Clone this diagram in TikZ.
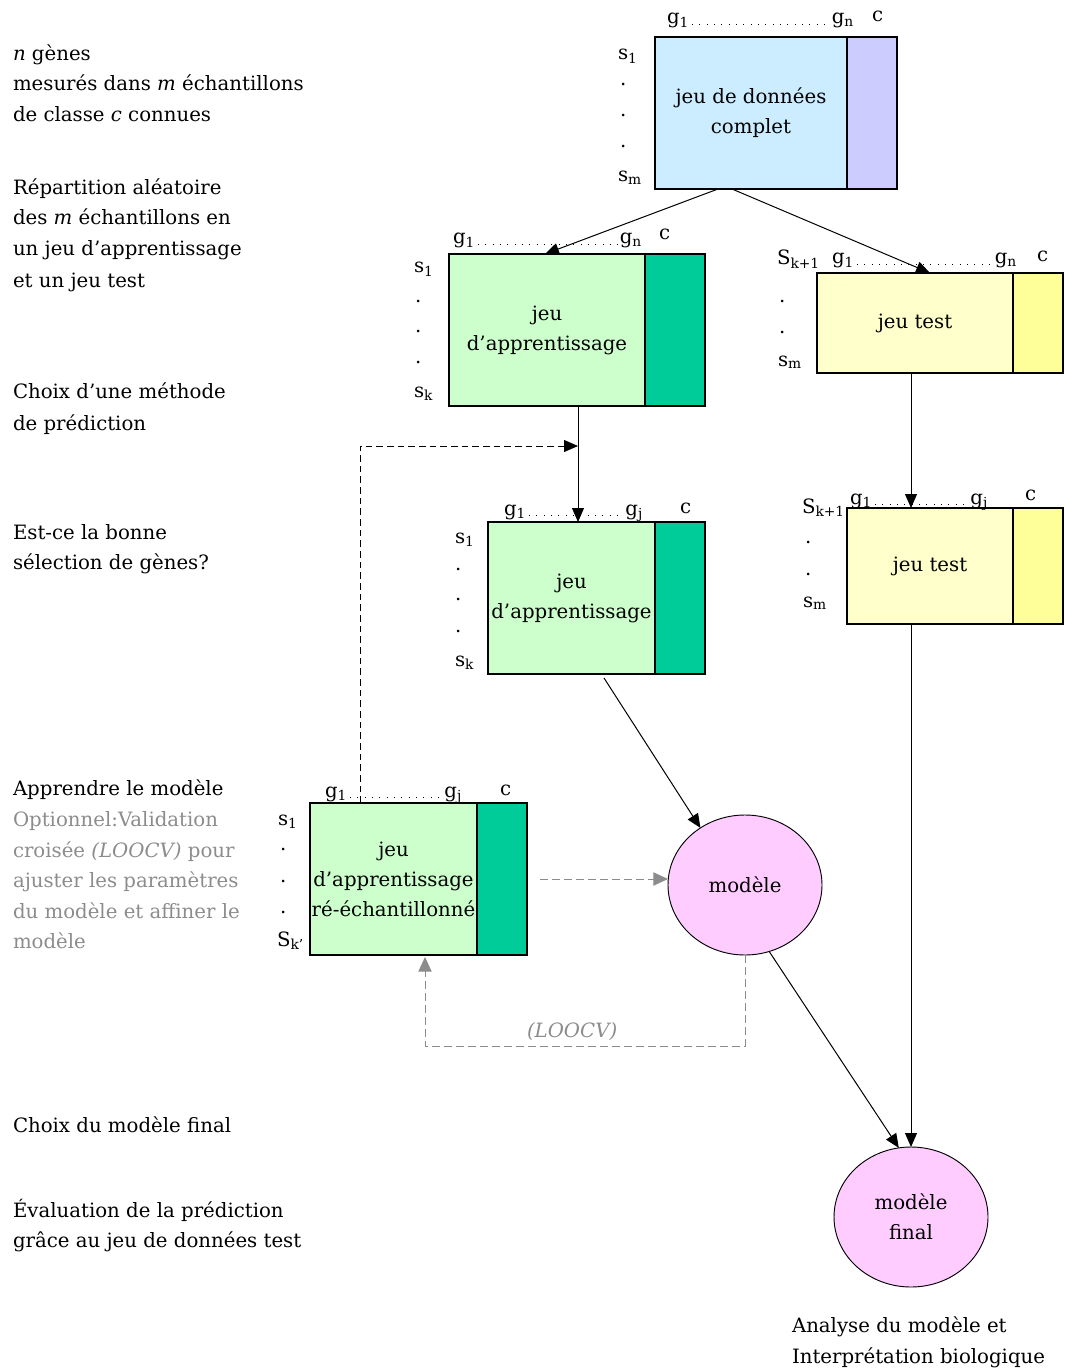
\documentclass[tikz,border=0pt]{standalone}
\usepackage{fontspec}
\setmainfont{DejaVu Serif}
\usetikzlibrary{arrows.meta,shapes.geometric,calc}
\definecolor{lblue}{HTML}{CCECFF}
\definecolor{lav}{HTML}{CCCCFF}
\definecolor{lgreen}{HTML}{CCFFCC}
\definecolor{teal2}{HTML}{00CC99}
\definecolor{lyel}{HTML}{FFFFCC}
\definecolor{yel}{HTML}{FFFF99}
\definecolor{pinkc}{HTML}{FFCCFF}
\definecolor{grayc}{HTML}{8C8C8C}
\newcommand\pxu{0.75pt}
\tikzset{
  every node/.style={inner sep=0pt, outer sep=0pt},
  txt/.style={font=\fontsize{14.8}{22.5}\selectfont},
  ltxt/.style={txt, anchor=base west},
  rtxt/.style={txt, anchor=base east},
  mainbox/.style={draw=black, line width=1pt, anchor=north west, align=center, txt},
  clsbox/.style={draw=black, line width=1pt, anchor=north west},
  circ/.style={ellipse, draw=black, line width=0.7pt, fill=pinkc, align=center, txt,
               minimum width=154*\pxu, minimum height=140*\pxu},
  dotl/.style={line width=0.6pt, dash pattern=on 0.6pt off 4.9pt},
  arr/.style={-{Triangle[length=10.5pt,width=9pt]}, line width=0.75pt},
  darr/.style={arr, dash pattern=on 5pt off 3pt},
  garr/.style={-{Triangle[length=11pt,width=10pt]}, line width=0.75pt, draw=grayc, color=grayc, dash pattern=on 6pt off 3pt},
}
\begin{document}
\begin{tikzpicture}[x=0.75pt,y=-0.75pt]
\useasboundingbox (0,0) rectangle (1064,1369);

% ---------- left column texts ----------
\node[ltxt] (l1) at (13,61) {\textit{n} gènes};
\node[ltxt] (l2) at (13,91) {mesurés dans \textit{m} échantillons};
\node[ltxt] (l3) at (13,122) {de classe \textit{c} connues};
\node[ltxt] (l4) at (13,195) {Répartition aléatoire};
\node[ltxt] (l5) at (13,225) {des \textit{m} échantillons en};
\node[ltxt] (l6) at (13,256) {un jeu d’apprentissage};
\node[ltxt] (l7) at (13,287) {et un jeu test};
\node[ltxt] (l8) at (13,398) {Choix d’une méthode};
\node[ltxt] (l9) at (13,430) {de prédiction};
\node[ltxt] (l10) at (13,539) {Est-ce la bonne};
\node[ltxt] (l11) at (13,569) {sélection de gènes?};
\node[ltxt] (l12) at (13,795) {Apprendre le modèle};
\node[ltxt, grayc] (l13) at (13,826) {Optionnel:Validation};
\node[ltxt, grayc] (l14) at (13,857) {croisée \textit{(LOOCV)} pour};
\node[ltxt, grayc] (l15) at (13,887) {ajuster les paramètres};
\node[ltxt, grayc] (l16) at (13,918) {du modèle et affiner le};
\node[ltxt, grayc] (l17) at (13,948) {modèle};
\node[ltxt] (l18) at (13,1132) {Choix du modèle final};
\node[ltxt] (l19) at (13,1217) {Évaluation de la prédiction};
\node[ltxt] (l20) at (13,1247) {grâce au jeu de données test};
\node[ltxt] (r1) at (792,1332) {Analyse du modèle et};
\node[ltxt] (r2) at (792,1363) {Interprétation biologique};

% ---------- box 1 : complete data ----------
\node[mainbox, fill=lblue, minimum width=192*\pxu, minimum height=152*\pxu] (b1) at (655,37) {jeu de données\\complet};
\node[clsbox, fill=lav, minimum width=50*\pxu, minimum height=152*\pxu] (b1c) at (b1.north east) {};
\node[ltxt] (b1g1) at (667,24) {g\textsubscript{1}};
\node[rtxt] (b1gn) at (854,24) {g\textsubscript{n}};
\node[ltxt] (b1cl) at (872,22) {c};
\node[ltxt] (b1s1) at (618,60) {s\textsubscript{1}};
\node[ltxt] (b1d1) at (620,86) {.};
\node[ltxt] (b1d2) at (620,117) {.};
\node[ltxt] (b1d3) at (620,148) {.};
\node[ltxt] (b1sm) at (618,182) {s\textsubscript{m}};
\draw[dotl] ($(b1g1.base east)+(3,0)$) -- ($(b1gn.base west)+(-2,0)$);

% ---------- box 2 : training set ----------
\node[mainbox, fill=lgreen, minimum width=196*\pxu, minimum height=152*\pxu] (b2) at (449,254) {jeu\\d’apprentissage};
\node[clsbox, fill=teal2, minimum width=60*\pxu, minimum height=152*\pxu] (b2c) at (b2.north east) {};
\node[ltxt] (b2g1) at (453,244) {g\textsubscript{1}};
\node[rtxt] (b2gn) at (642,244) {g\textsubscript{n}};
\node[ltxt] (b2cl) at (659,240) {c};
\node[ltxt] (b2s1) at (414,273) {s\textsubscript{1}};
\node[ltxt] (b2d1) at (415,302) {.};
\node[ltxt] (b2d2) at (415,332) {.};
\node[ltxt] (b2d3) at (415,363) {.};
\node[ltxt] (b2sk) at (414,397) {s\textsubscript{k}};
\draw[dotl] ($(b2g1.base east)+(3,0)$) -- ($(b2gn.base west)+(-2,0)$);

% ---------- box 3 : test set ----------
\node[mainbox, fill=lyel, minimum width=196*\pxu, minimum height=100*\pxu] (b3) at (817,273) {jeu test};
\node[clsbox, fill=yel, minimum width=50*\pxu, minimum height=100*\pxu] (b3c) at (b3.north east) {};
\node[ltxt] (b3sk) at (777,265) {S\textsubscript{k+1}};
\node[ltxt] (b3g1) at (832,264) {g\textsubscript{1}};
\node[rtxt] (b3gn) at (1017,264) {g\textsubscript{n}};
\node[ltxt] (b3cl) at (1037,262) {c};
\node[ltxt] (b3d1) at (779,302) {.};
\node[ltxt] (b3d2) at (779,333) {.};
\node[ltxt] (b3sm) at (778,366) {s\textsubscript{m}};
\draw[dotl] ($(b3g1.base east)+(3,0)$) -- ($(b3gn.base west)+(-2,0)$);

% ---------- box 4 : selected genes training ----------
\node[mainbox, fill=lgreen, minimum width=167*\pxu, minimum height=152*\pxu] (b4) at (488,522) {jeu\\d’apprentissage};
\node[clsbox, fill=teal2, minimum width=50*\pxu, minimum height=152*\pxu] (b4c) at (b4.north east) {};
\node[ltxt] (b4g1) at (504,515) {g\textsubscript{1}};
\node[rtxt] (b4gj) at (643,515) {g\textsubscript{j}};
\node[ltxt] (b4cl) at (680,513) {c};
\node[ltxt] (b4s1) at (455,543) {s\textsubscript{1}};
\node[ltxt] (b4d1) at (455,570) {.};
\node[ltxt] (b4d2) at (455,600) {.};
\node[ltxt] (b4d3) at (455,632) {.};
\node[ltxt] (b4sk) at (455,666) {s\textsubscript{k}};
\draw[dotl] ($(b4g1.base east)+(3,0)$) -- ($(b4gj.base west)+(-2,0)$);

% ---------- box 5 : selected genes test ----------
\node[mainbox, fill=lyel, minimum width=166*\pxu, minimum height=116*\pxu] (b5) at (847,508) {jeu test};
\node[clsbox, fill=yel, minimum width=50*\pxu, minimum height=116*\pxu] (b5c) at (b5.north east) {};
\node[ltxt] (b5sk) at (802,513) {S\textsubscript{k+1}};
\node[ltxt] (b5g1) at (850,504) {g\textsubscript{1}};
\node[rtxt] (b5gj) at (988,504) {g\textsubscript{j}};
\node[ltxt] (b5cl) at (1025,500) {c};
\node[ltxt] (b5d1) at (805,543) {.};
\node[ltxt] (b5d2) at (805,575) {.};
\node[ltxt] (b5sm) at (803,607) {s\textsubscript{m}};
\draw[dotl] ($(b5g1.base east)+(3,0)$) -- ($(b5gj.base west)+(-2,0)$);

% ---------- box 6 : resampled training ----------
\node[mainbox, fill=lgreen, minimum width=167*\pxu, minimum height=152*\pxu] (b6) at (310,803) {jeu\\d’apprentissage\\ré-échantillonné};
\node[clsbox, fill=teal2, minimum width=50*\pxu, minimum height=152*\pxu] (b6c) at (b6.north east) {};
\node[ltxt] (b6g1) at (325,797) {g\textsubscript{1}};
\node[rtxt] (b6gj) at (462,797) {g\textsubscript{j}};
\node[ltxt] (b6cl) at (500,795) {c};
\node[ltxt] (b6s1) at (278,825) {s\textsubscript{1}};
\node[ltxt] (b6d1) at (280,850) {.};
\node[ltxt] (b6d2) at (280,882) {.};
\node[ltxt] (b6d3) at (280,913) {.};
\node[ltxt] (b6sk) at (277,946) {S\textsubscript{k’}};
\draw[dotl] ($(b6g1.base east)+(3,0)$) -- ($(b6gj.base west)+(-2,0)$);

% ---------- models ----------
\node[circ] (modele) at (745,885) {modèle};
\node[circ] (final) at (911,1217) {modèle\\final};

% ---------- connectors ----------
\draw[arr] ($(b1.south west)+(63,0)$) -- ($(b2.north west)+(96,0)$);
\draw[arr] ($(b1.south west)+(77,0)$) -- ($(b3.north west)+(113,0)$);
\draw[arr] ($(b2.south west)+(129,0)$) -- ($(b4.north west)+(90,0)$);
\coordinate (fb) at ($(b2.south west)+(129,40)$);
\draw[darr] ($(b6.north west)+(50,0)$) |- (fb);
\draw[arr] ($(b3.south west)+(94,0)$) -- ($(b5.north west)+(64,0)$);
\draw[arr] ($(b4.south west)+(116,4)$) -- (modele.128);
\draw[garr] ($(b6c.east)+(13,0)$) -- (b6c.east -| modele.west);
\draw[garr] (modele.south) -- ++(0,91) -| ($(b6.south west)+(115,2)$);
\node[ltxt, grayc, font=\itshape\fontsize{14.8}{22.5}\selectfont] (loocv) at (527,1037) {(LOOCV)};
\draw[arr] (modele.-70) -- (final.100);
\draw[arr] ($(b5.south west)+(64,0)$) -- (final.north);
\end{tikzpicture}
\end{document}
